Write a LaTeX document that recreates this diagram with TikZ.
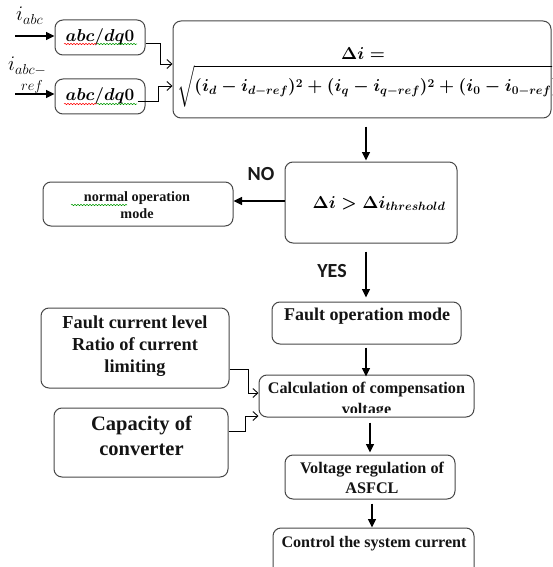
\documentclass[tikz,border=0pt]{standalone}
\usepackage{amsmath}
\usepackage{fontspec}
\setmainfont{Liberation Serif}
\newfontfamily\yesno{Carlito}
\usetikzlibrary{arrows.meta,calc,decorations.pathmorphing}
\begin{document}
\begin{tikzpicture}[x=1pt,y=-1pt,
  box/.style={draw=black!72, line width=1pt, rounded corners=8pt, inner sep=0pt},
  btxt/.style={font=\bfseries\fontsize{16}{20}\selectfont, align=center, inner sep=0pt, anchor=base, text=black!92},
  mtxt/.style={font=\boldmath\fontsize{16}{18}\selectfont, inner sep=0pt},
  arr/.style={-{Triangle[length=8.5pt,width=8pt]}, line width=1.3pt},
  oarr/.style={-{Straight Barb[length=5pt,width=9pt]}, line width=0.9pt},
  lbl/.style={font=\yesno\bfseries\fontsize{20}{22}\selectfont, inner sep=0pt, text=black!90},
  squig/.style={decorate, decoration={snake, amplitude=0.7pt, segment length=3pt}, line width=0.5pt}
]
\useasboundingbox (0,0) rectangle (552,567);
\clip (0,0) rectangle (552,567);

% boxes
\node[box, minimum width=90pt, minimum height=35pt] (t1) at (100,37.5) {};
\node[box, minimum width=90pt, minimum height=35pt] (t2) at (100,96.5) {};
\node[box, minimum width=378pt, minimum height=97pt] (big) at (362,69.5) {};
\node[box, minimum width=172pt, minimum height=81pt] (dec) at (371,202.5) {};
\node[box, minimum width=190pt, minimum height=44pt] (norm) at (138,204) {};
\node[box, minimum width=189pt, minimum height=42pt] (fault) at (366.5,323) {};
\node[box, minimum width=215pt, minimum height=42pt] (calc) at (366.5,396) {};
\node[box, minimum width=188pt, minimum height=80pt] (fcl) at (135,348) {};
\node[box, minimum width=174pt, minimum height=69pt] (cap) at (141,442.5) {};
\node[box, minimum width=170pt, minimum height=44pt] (volt) at (370,477) {};
\node[box, minimum width=201pt, minimum height=64pt] (ctrl) at (373.5,560) {};

% texts
\node[mtxt, font=\boldmath\fontsize{17}{20}\selectfont] (t1t) at (100,37) {$abc/dq0$};
\node[mtxt, font=\boldmath\fontsize{17}{20}\selectfont] (t2t) at (100,96.5) {$abc/dq0$};
\node[mtxt, anchor=base] (dit) at (363,60) {$\Delta i =$};
\node[mtxt, anchor=base west, font=\boldmath\fontsize{16.5}{18}\selectfont] (sq) at (177,92) {$\sqrt{\vphantom{\Big(}(i_d - i_{d-ref})^2 + (i_q - i_{q-ref})^2 + (i_0 - i_{0-ref})^2}$};
\node[mtxt, anchor=base, font=\boldmath\fontsize{17}{20}\selectfont] (dt) at (379,208) {$\Delta i > \Delta i_{threshold}$};
\node[btxt, font=\bfseries\fontsize{14.2}{16.5}\selectfont] (nt) at (137,218) {normal operation\\mode};
\node[btxt, font=\bfseries\fontsize{18}{20}\selectfont] (ft) at (367,320) {Fault operation mode};
\begin{scope}
\clip (calc.north west) rectangle ($(calc.south east)+(0,-5)$);
\node[btxt, font=\bfseries\fontsize{16.2}{21}\selectfont] (ct) at (366.5,414) {Calculation of compensation\\voltage};
\end{scope}
\node[btxt, font=\bfseries\fontsize{18.3}{22}\selectfont] (fct) at (135,372) {Fault current level\\Ratio of current\\limiting};
\node[btxt, font=\bfseries\fontsize{20.5}{25}\selectfont] (capt) at (141.5,455) {Capacity of\\converter};
\node[btxt, font=\bfseries\fontsize{16.2}{20}\selectfont] (vt) at (372,493) {Voltage regulation of\\ASFCL};
\node[btxt, font=\bfseries\fontsize{16.1}{20}\selectfont] (ctt) at (374,547) {Control the system current};
\node[lbl, anchor=base] (no) at (261,180) {NO};
\node[lbl, anchor=base] (yes) at (332,277) {YES};

\node[inner sep=0pt, anchor=base west, font=\fontsize{20}{22}\selectfont] (ia) at (16,21) {$i$\raisebox{-3.5pt}{\fontsize{15.5}{16}\selectfont$abc$}};
\node[inner sep=0pt, anchor=base west, font=\fontsize{20}{22}\selectfont] (ir1) at (8,71) {$i$\raisebox{-3.5pt}{\fontsize{15.5}{16}\selectfont$abc-$}};
\node[inner sep=0pt, anchor=base west, font=\fontsize{15.5}{16}\selectfont] (ir2) at (21,91) {$ref$};

% spell-check squiggles
\draw[squig, red] (64,44) -- (97,44);
\draw[squig, green!60!black] (97,44) -- (137,44);
\draw[squig, red] (64,104) -- (97,104);
\draw[squig, green!60!black] (97,104) -- (137,104);
\draw[squig, green!60!black] (71,205) -- (127,205);

% connectors
\coordinate (ax) at (366,0);
\coordinate (bx) at (370,0);
\coordinate (cx) at (372,0);
\draw[arr, shorten <=8pt, shorten >=1pt] (big.south -| ax) -- (dec.north -| ax);
\draw[arr] ($(dec.west)+(0,-1.5)$) -- ($(dec.west -| norm.east)+(0,-1.5)$);
\draw[arr, shorten <=8pt, shorten >=4pt] (dec.south -| ax) -- (fault.north -| ax);
\draw[arr, shorten <=3pt, shorten >=-2pt] (fault.south -| ax) -- (calc.north -| ax);
\draw[arr, shorten <=5pt, shorten >=2pt] (calc.south -| bx) -- (volt.north -| bx);
\draw[arr, shorten <=4pt] (volt.south -| cx) -- (ctrl.north -| cx);

\coordinate (in1) at (15,36);
\coordinate (in2) at (15,94);
\draw[arr] (in1) -- (in1 -| t1.west);
\draw[arr] (in2) -- (in2 -| t2.west);

\draw[oarr] ($(t1.east)+(0,5.5)$) -- ++(15,0) |- ($(big.west)+(0,-5.5)$);
\draw[oarr] ($(t2.east)+(-8,4.5)$) -- ++(21,0) |- ($(big.west)+(0,16.5)$);
\draw[oarr] ($(fcl.east)+(0,21)$) -- ++(19,0) |- ($(calc.west)+(0,-3)$);
\draw[oarr] ($(cap.east)+(0,-11.5)$) -- ++(17,0) |- ($(calc.west)+(0,20)$);
\end{tikzpicture}
\end{document}
